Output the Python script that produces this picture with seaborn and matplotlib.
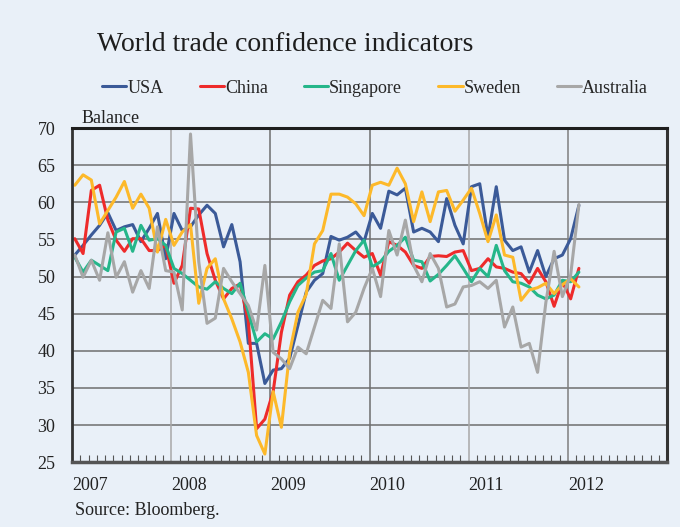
import numpy as np
import pandas as pd
import matplotlib.pyplot as plt
import seaborn as sns

# =============================================================================
# Data: monthly balance readings, Jan 2007 - Feb 2012
# =============================================================================
countries = ['USA', 'China', 'Singapore', 'Sweden', 'Australia']
colors = ['#3B5A98', '#EE2B2B', '#25B68A', '#FDB92A', '#A7A7A7']

usa = [52.9, 54.2, 55.6, 56.9, 58.6, 56.2, 56.7, 57.0, 54.7, 56.5, 58.5, 52.4,
       58.5, 56.2, 56.7, 58.3, 59.6, 58.5, 54.0, 57.0, 52.0, 41.0, 41.0, 35.6,
       37.4, 37.6, 39.0, 43.4, 47.9, 49.5, 50.4, 55.4, 54.9, 55.3, 56.0, 54.7,
       58.5, 56.5, 61.5, 61.0, 61.9, 56.0, 56.5, 56.0, 54.7, 60.5, 56.9, 54.4,
       62.1, 62.5, 55.3, 62.1, 54.9, 53.5, 54.0, 50.6, 53.5, 50.0, 52.4, 52.9,
       55.1, 59.6]
china = [55.1, 53.1, 61.6, 62.3, 57.6, 54.9, 53.4, 55.1, 55.1, 53.5, 53.5, 54.2,
         49.1, 51.5, 59.2, 59.1, 53.1, 49.5, 47.0, 48.4, 49.0, 44.0, 29.5, 30.8,
         34.5, 42.5, 47.5, 49.3, 50.2, 51.5, 52.1, 52.4, 53.3, 54.5, 53.5, 52.6,
         53.1, 50.2, 54.7, 54.2, 53.3, 51.5, 51.1, 52.7, 52.8, 52.7, 53.3, 53.5,
         50.8, 51.1, 52.4, 51.3, 51.1, 50.6, 50.4, 49.1, 51.1, 49.3, 46.0, 49.3,
         47.0, 51.1]
singapore = [52.6, 50.6, 52.2, 51.5, 50.8, 56.0, 56.5, 53.4, 56.9, 54.9, 55.1, 54.2,
             51.1, 50.4, 49.5, 48.6, 48.3, 49.3, 48.4, 47.7, 49.1, 45.2, 41.2, 42.3,
             41.6, 43.9, 46.6, 48.8, 49.8, 50.6, 50.8, 53.1, 49.5, 51.5, 53.5, 54.9,
             51.3, 52.0, 53.4, 54.2, 55.3, 52.2, 52.0, 49.4, 50.3, 51.5, 52.8, 51.1,
             49.3, 51.1, 50.0, 54.2, 50.8, 49.3, 49.1, 48.6, 47.5, 47.0, 47.5, 49.5,
             49.3, 50.6]
sweden = [62.3, 63.7, 63.0, 57.1, 58.9, 60.7, 62.8, 59.2, 61.1, 59.2, 53.3, 57.7,
          54.2, 56.0, 57.0, 46.4, 51.1, 52.4, 47.0, 44.3, 41.2, 37.1, 28.6, 26.1,
          34.5, 29.7, 39.8, 45.2, 47.6, 54.4, 56.2, 61.1, 61.1, 60.7, 59.8, 58.2,
          62.3, 62.7, 62.3, 64.6, 62.5, 57.4, 61.4, 57.4, 61.4, 61.6, 58.8, 60.3,
          61.9, 58.5, 54.7, 58.3, 52.9, 52.6, 46.8, 48.2, 48.5, 49.1, 47.7, 48.9,
          49.7, 48.6]
australia = [52.9, 49.9, 52.2, 49.5, 55.9, 49.9, 52.0, 47.9, 50.8, 48.4, 56.7, 50.8,
             50.6, 45.5, 69.2, 52.0, 43.7, 44.4, 51.1, 49.3, 47.7, 46.1, 42.8, 51.5,
             39.8, 38.9, 37.6, 40.5, 39.6, 43.2, 46.8, 45.7, 54.4, 43.9, 45.2, 48.4,
             51.1, 47.3, 56.2, 52.9, 57.6, 51.5, 49.3, 53.1, 51.1, 45.9, 46.3, 48.6,
             48.8, 49.3, 48.4, 49.5, 43.2, 45.9, 40.5, 41.0, 37.1, 46.5, 53.4, 47.3,
             50.2, 59.7]

years = [2007, 2008, 2009, 2010, 2011, 2012]

# month positions in fractional years
months = np.arange(len(usa))
xpos = 2007 + (months + 0.33) / 12

df = pd.DataFrame({'x': xpos, 'USA': usa, 'China': china, 'Singapore': singapore,
                   'Sweden': sweden, 'Australia': australia})
long_df = df.melt(id_vars='x', var_name='country', value_name='balance')

# =============================================================================
# Plot
# =============================================================================
bg = '#E9F0F8'
sns.set_theme(style='white')
plt.rcParams['font.family'] = ['Liberation Serif', 'DejaVu Serif']

fig = plt.figure(figsize=(6.8, 5.27), dpi=100, facecolor=bg)
ax = fig.add_axes([0.106, 0.123, 0.875, 0.634], facecolor=bg)

sns.lineplot(data=long_df, x='x', y='balance', hue='country', hue_order=countries,
             palette=colors, linewidth=2.2, ax=ax, legend=True)

ax.set_xlim(2007, 2013)
ax.set_ylim(25, 70)
ax.set_yticks(np.arange(25, 71, 5))
ax.set_xticks(years)
ax.set_xticklabels([str(y) for y in years], ha='left')
ax.set_xticks(np.arange(2007, 2013, 1 / 12), minor=True)
ax.set_xlabel('')
ax.set_ylabel('')

ax.tick_params(axis='x', which='major', length=0, pad=11, labelsize=13, labelcolor='#222222')
ax.tick_params(axis='x', which='minor', direction='in', length=5, width=0.8,
               color='#555555', bottom=True)
ax.tick_params(axis='y', length=0, pad=12, labelsize=13, labelcolor='#222222')

# gridlines
for yv in np.arange(30, 70, 5):
    ax.axhline(yv, color='#6E6E6E', lw=1.1, zorder=0)
grid_cols = ['#A8A8A8', '#6E6E6E', '#6E6E6E', '#A8A8A8', '#7E7E7E']
for yr, gc in zip(years[1:], grid_cols):
    ax.axvline(yr, color=gc, lw=1.1, zorder=0)

for side, col, w in [('left', '#333333', 2.0), ('bottom', '#555555', 2.5),
                     ('top', '#1E1E1E', 2.2), ('right', '#333333', 2.2)]:
    ax.spines[side].set_visible(True)
    ax.spines[side].set_color(col)
    ax.spines[side].set_linewidth(w)

# legend above the axes
handles, labels = ax.get_legend_handles_labels()
ax.get_legend().remove()
fig.legend(handles, labels, loc='center left', bbox_to_anchor=(0.150, 0.833),
           ncol=5, frameon=False, fontsize=13, handlelength=1.35,
           handletextpad=0.05, columnspacing=2.0, borderpad=0, borderaxespad=0)

fig.text(0.143, 0.915, 'World trade confidence indicators', fontsize=20,
         color='#1E1E1E', va='center', ha='left')
fig.text(0.120, 0.776, 'Balance', fontsize=13, color='#222222', va='center', ha='left')
fig.text(0.110, 0.032, 'Source: Bloomberg.', fontsize=13, color='#222222',
         va='center', ha='left')

plt.savefig('out.png', dpi=100, facecolor=bg)
